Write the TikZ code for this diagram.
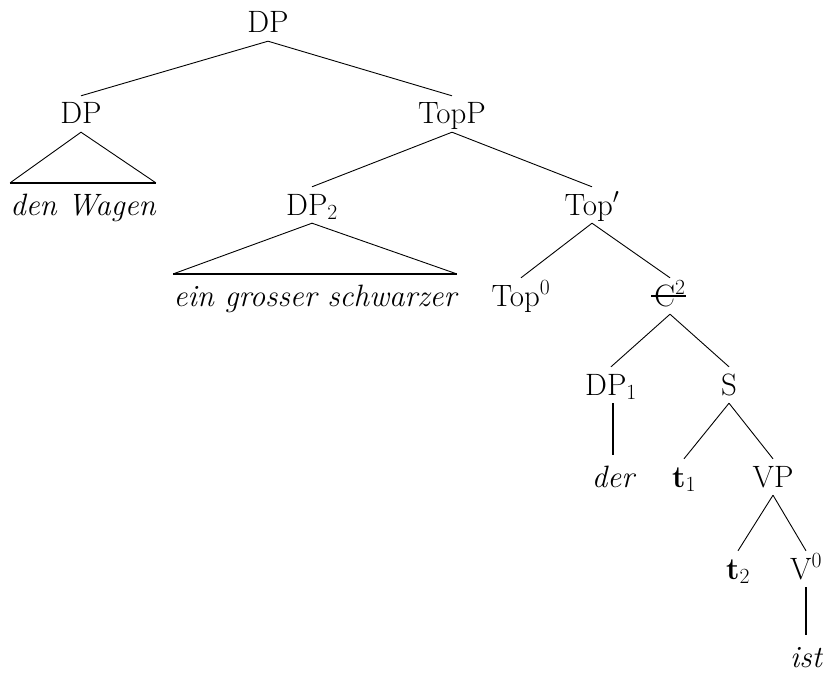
\RequirePackage{fix-cm}
\documentclass[tikz,border=0pt]{standalone}
\usepackage{fontspec}
\usepackage{tikz}

\newcommand\treefont{\fontsize{31}{37}\selectfont}
\tikzset{
    lbl/.style={anchor=base, inner sep=0pt, text height=28bp, text depth=8bp, font=\treefont},
    leaf/.style={lbl, text height=32bp, font=\treefont\itshape},
    branch/.style={line width=0.9pt},
    unary/.style={line width=2pt},
    trbase/.style={line width=2.5pt},
}

\begin{document}
\begin{tikzpicture}[x=1bp, y=-1bp]
        \useasboundingbox (0,0) rectangle (828,675);

        \node[lbl] (dpa) at (268,33) {DP};
        \node[lbl] (dpb) at (81,124) {DP};
        \node[lbl] (topp) at (452,124) {TopP};
        \node[leaf] (wagen) at (83,215) {den Wagen};
        \node[lbl] (dpc) at (312,215) {DP\textsubscript{2}};
        \node[lbl] (topbar) at (592,215) {Top$'$};
        \node[leaf] (ein) at (315,306) {ein grosser schwarzer};
        \node[lbl] (topz) at (521,306) {Top\textsuperscript{0}};
        \node[lbl] (cz) at (670,306) {C\textsuperscript{2}};
        \node[lbl] (dpd) at (611,395) {DP\textsubscript{1}};
        \node[lbl] (s) at (729,395) {S};
        \node[leaf] (der) at (613,487) {der};
        \node[lbl] (ta) at (684,487) {\textbf{t}\textsubscript{1}};
        \node[lbl] (vp) at (773,487) {VP};
        \node[lbl] (tb) at (738,579) {\textbf{t}\textsubscript{2}};
        \node[lbl] (vz) at (806,579) {V\textsuperscript{0}};
        \node[leaf] (ist) at (806,667) {ist};

        \foreach \p/\c in {dpa/dpb, dpa/topp, topp/dpc, topp/topbar,
                topbar/topz, topbar/cz, cz/dpd, cz/s, s/ta, s/vp, vp/tb, vp/vz}
            \draw[branch] (\p.south) -- (\c.north);

        % triangles
        \foreach \p/\c in {dpb/wagen, dpc/ein} {
            \draw[branch] (\c.north west) -- (\p.south) -- (\c.north east);
            \draw[trbase] (\c.north west) -- (\c.north east);
        }

        \draw[unary] (der.north) -- (der.north |- dpd.south);
        \draw[unary] (ist.north) -- (ist.north |- vz.south);

        % struck out C
        \draw[line width=1.8pt] ([xshift=-3bp, yshift=10bp]cz.base west) -- ([yshift=10bp]cz.base east);
    \end{tikzpicture}
\end{document}
